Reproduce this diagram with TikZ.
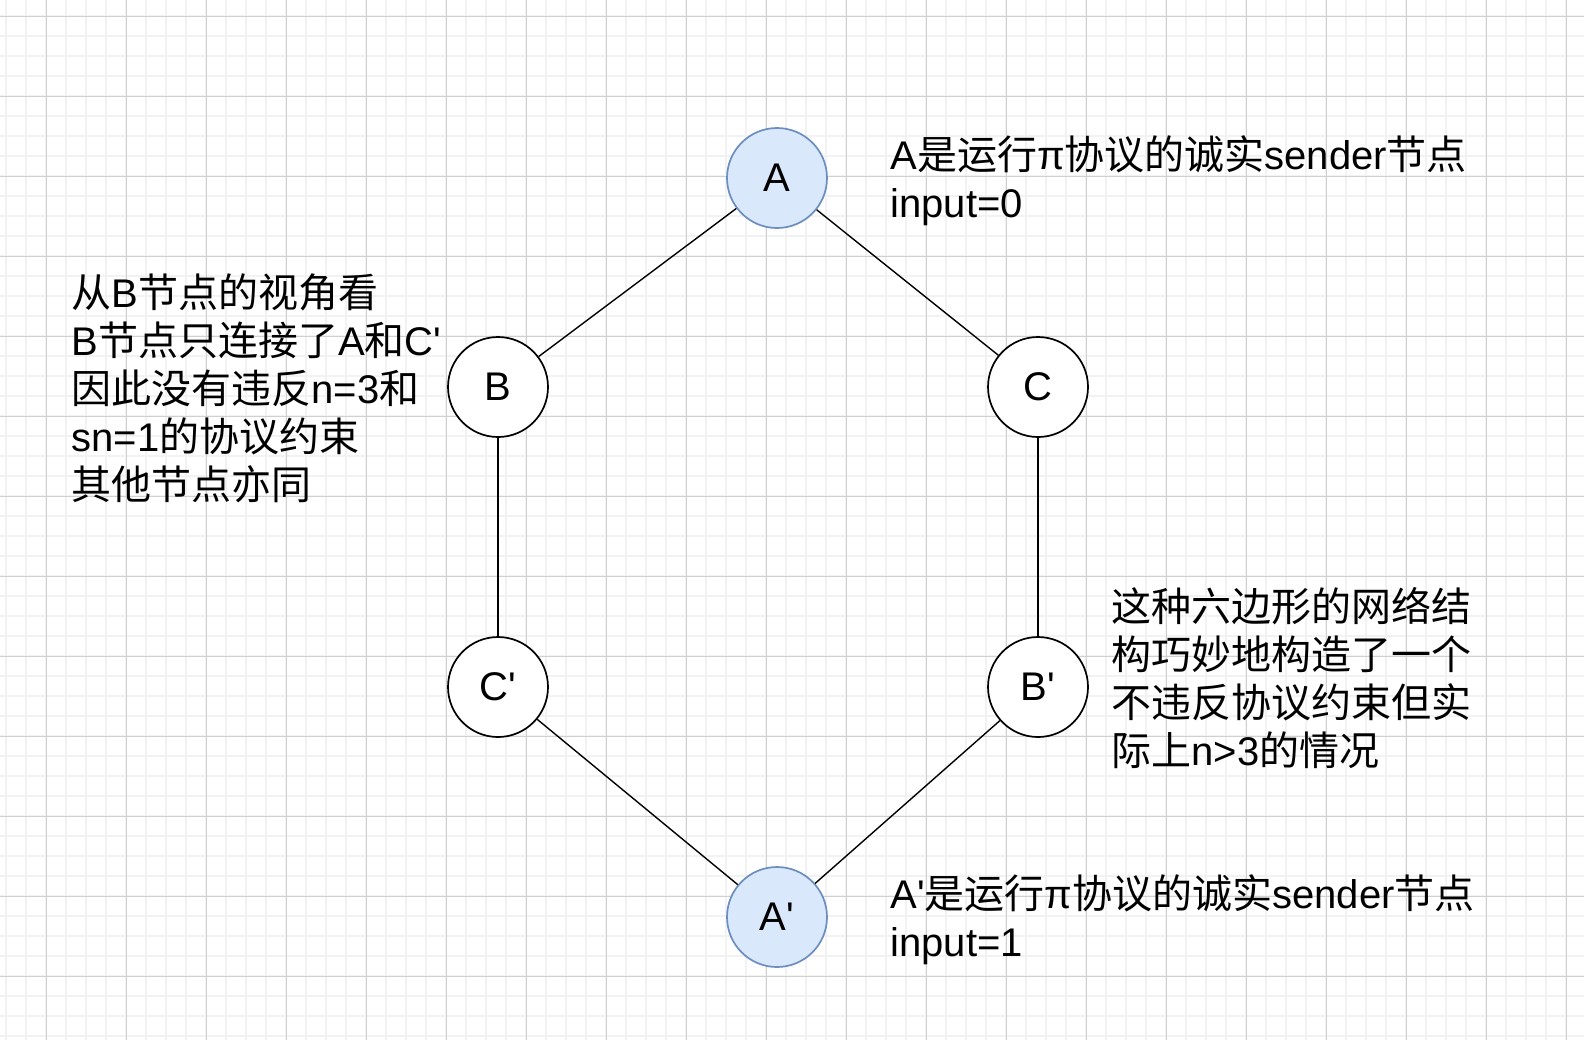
\documentclass[tikz,border=0pt]{standalone}
\usepackage{fontspec}
\newfontfamily\arial{Liberation Sans}
\newfontfamily\cjk{Noto Sans CJK SC}
\newcommand{\zh}[1]{{\cjk #1}}

\definecolor{bluefill}{HTML}{DAE8FC}
\definecolor{blueline}{HTML}{6C8EBF}
\definecolor{minorgrid}{HTML}{F2F2F2}
\definecolor{majorgrid}{HTML}{D0D0D0}

\tikzset{
    peer/.style={circle, draw=black, line width=0.85pt, fill=white,
        minimum size=50pt, inner sep=0pt},
    sender/.style={peer, draw=blueline, fill=bluefill},
    note/.style={align=left, anchor=west, inner sep=0pt},
    link/.style={line width=0.7pt},
}

\begin{document}
\begin{tikzpicture}[x=0.5pt, y=-0.5pt, font=\arial\fontsize{20}{24}\selectfont]
    \fill[white] (0, 0) rectangle (1584, 1040);
    \useasboundingbox (0, 0) rectangle (1584, 1040);

    % grid
    \foreach \x in {6,26,...,1566}
        \draw[minorgrid, line width=1pt] (\x, 0) -- (\x, 1040);
    \foreach \y in {16,36,...,1036}
        \draw[minorgrid, line width=1pt] (0, \y) -- (1584, \y);
    \foreach \x in {46,126,...,1566}
        \draw[majorgrid, line width=0.5pt] (\x, 0) -- (\x, 1040);
    \foreach \y in {16,96,...,976}
        \draw[majorgrid, line width=0.5pt] (0, \y) -- (1584, \y);

    % hexagon
    \node[sender] (nA) at (777, 178) {A};
    \node[peer] (nB) at (498, 387) {B};
    \node[peer] (nC) at (1038, 387) {C};
    \node[peer] (nCp) at (498, 687) {C'};
    \node[peer] (nBp) at (1038, 687) {B'};
    \node[sender] (nAp) at (777, 917) {A'};

    \draw[link] (nA) -- (nB);
    \draw[link] (nA) -- (nC);
    \draw[link] (nB) -- (nCp);
    \draw[link] (nC) -- (nBp);
    \draw[link] (nCp) -- (nAp);
    \draw[link] (nBp) -- (nAp);

    % notes
    \node[note] (noteA) at (890, 181)
        {A\zh{是运行}π\zh{协议的诚实}sender\zh{节点}\\input=0};
    \node[note] (noteView) at (71, 388)
        {\zh{从}B\zh{节点的视角看}\\B\zh{节点只连接了}A\zh{和}C'\\
         \zh{因此没有违反}n=3\zh{和}\\sn=1\zh{的协议约束}\\\zh{其他节点亦同}};
    \node[note] (noteHex) at (1111, 678)
        {\zh{这种六边形的网络结}\\\zh{构巧妙地构造了一个}\\
         \zh{不违反协议约束但实}\\\zh{际上}n>3\zh{的情况}};
    \node[note] (noteAp) at (890, 920)
        {A'\zh{是运行}π\zh{协议的诚实}sender\zh{节点}\\input=1};
\end{tikzpicture}
\end{document}
